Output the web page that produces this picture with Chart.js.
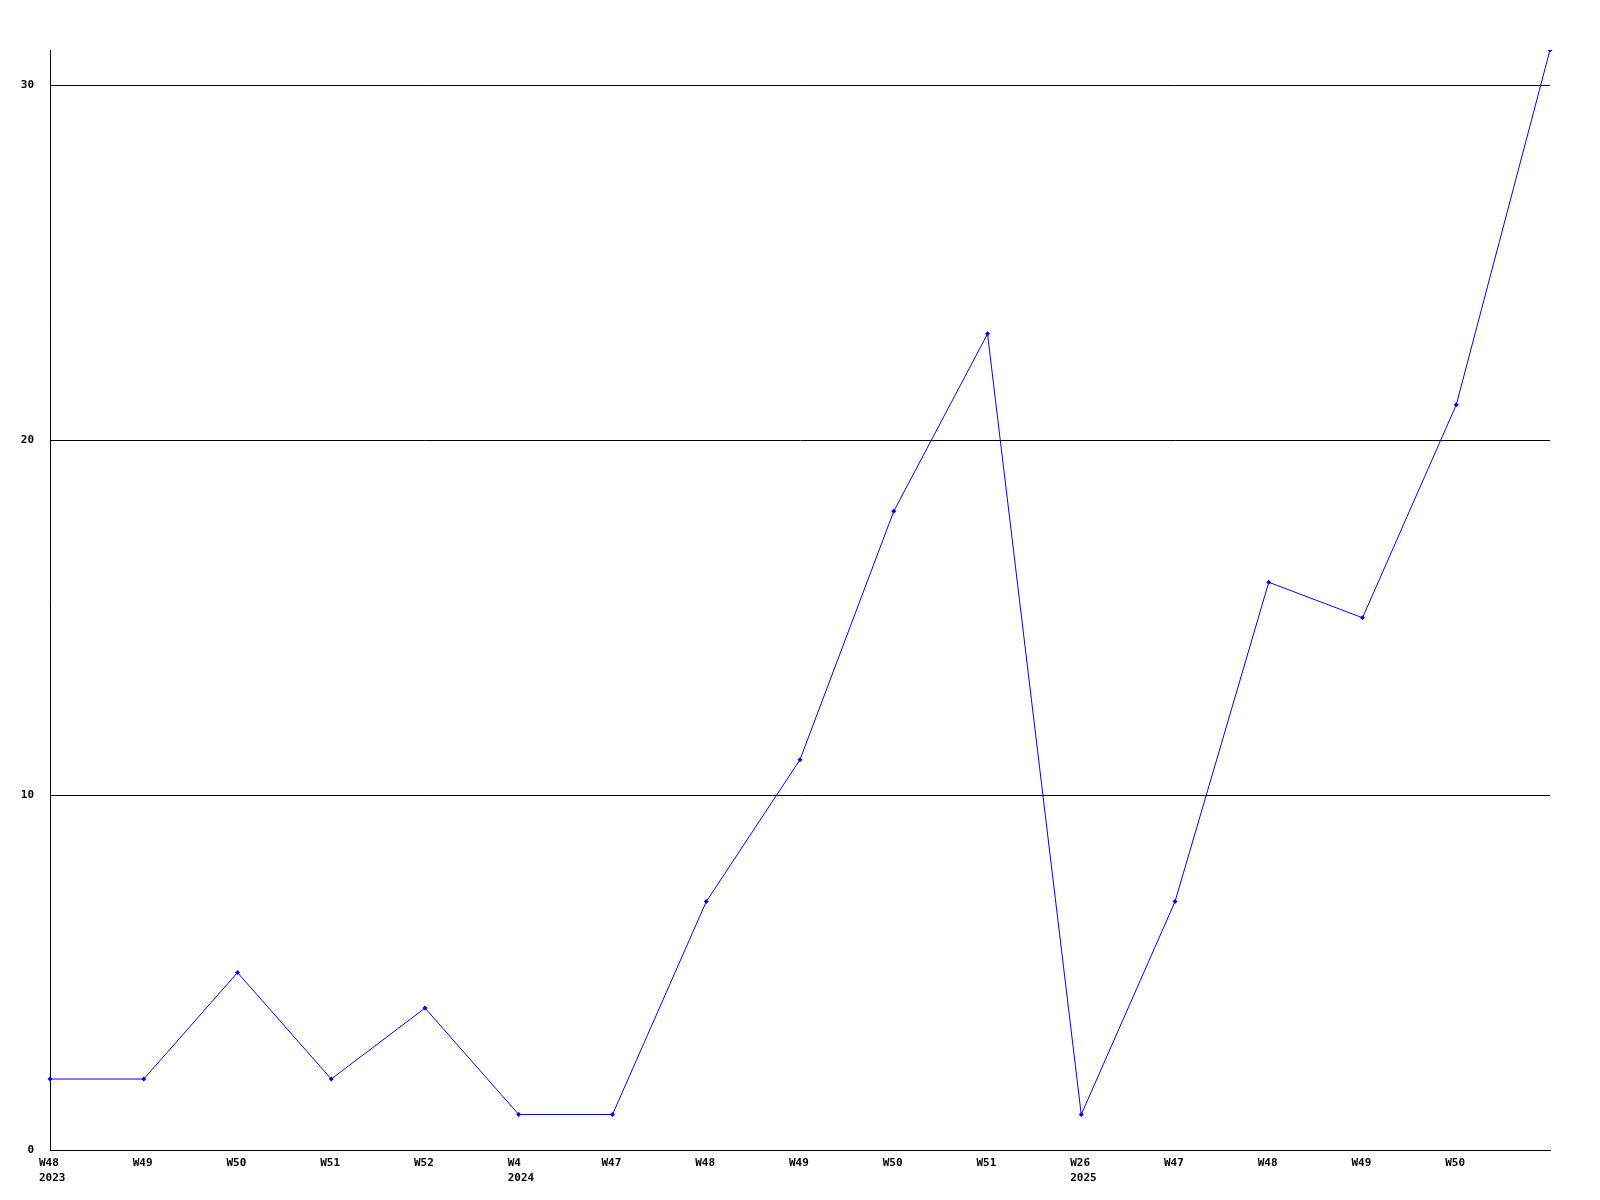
<!DOCTYPE html>
<html>
<head>
<meta charset="utf-8">
<script src="https://cdn.jsdelivr.net/npm/chart.js@4/dist/chart.umd.min.js"></script>
<style>
  html, body { margin: 0; padding: 0; background: #fff; }
  canvas { display: block; }
</style>
</head>
<body>
<canvas id="weekly-chart" width="1600" height="1200"></canvas>
<script>
const weeks = [
  ["W48", "2023"], "W49", "W50", "W51", "W52",
  ["W4", "2024"], "W47", "W48", "W49", "W50", "W51",
  ["W26", "2025"], "W47", "W48", "W49", "W50", "",
];

const counts = [2, 2, 5, 2, 4, 1, 1, 7, 11, 18, 23, 1, 7, 16, 15, 21, 31];

const yTicks = [0, 10, 20, 30];

const tickFont = {
  family: "'DejaVu Sans Mono', 'Liberation Mono', monospace",
  size: 11,
  weight: "bold",
  lineHeight: 1.4,
};

const ctx = document.getElementById("weekly-chart").getContext("2d");

const chart = new Chart(ctx, {
  type: "line",
  data: {
    labels: weeks,
    datasets: [
      {
        data: counts,
        borderColor: "#0000ff",
        backgroundColor: "#0000ff",
        borderWidth: 1,
        tension: 0,
        pointStyle: "rectRot",
        pointRadius: 2.5,
        pointBorderWidth: 0,
        fill: false,
      },
    ],
  },
  options: {
    responsive: false,
    animation: false,
    layout: {
      padding: { top: 50, right: 50, left: 0, bottom: 0 },
    },
    plugins: {
      legend: { display: false },
      tooltip: { enabled: false },
    },
    scales: {
      x: {
        offset: false,
        grid: { display: false, drawTicks: false },
        border: { display: true, color: "#000", width: 1 },
        ticks: {
          autoSkip: false,
          maxRotation: 0,
          minRotation: 0,
          align: "start",
          labelOffset: -11,
          padding: 5,
          color: "#000",
          font: tickFont,
        },
        afterFit: (scale) => {
          scale.height = 50;
        },
      },
      y: {
        min: 0,
        max: 31,
        grid: {
          color: "#000",
          lineWidth: 1,
          drawTicks: false,
        },
        border: { display: true, color: "#000", width: 1 },
        afterBuildTicks: (scale) => {
          scale.ticks = yTicks.map((v) => ({ value: v }));
        },
        ticks: {
          padding: 16,
          color: "#000",
          font: tickFont,
        },
        afterFit: (scale) => {
          scale.width = 50;
        },
      },
    },
  },
});
</script>
</body>
</html>
